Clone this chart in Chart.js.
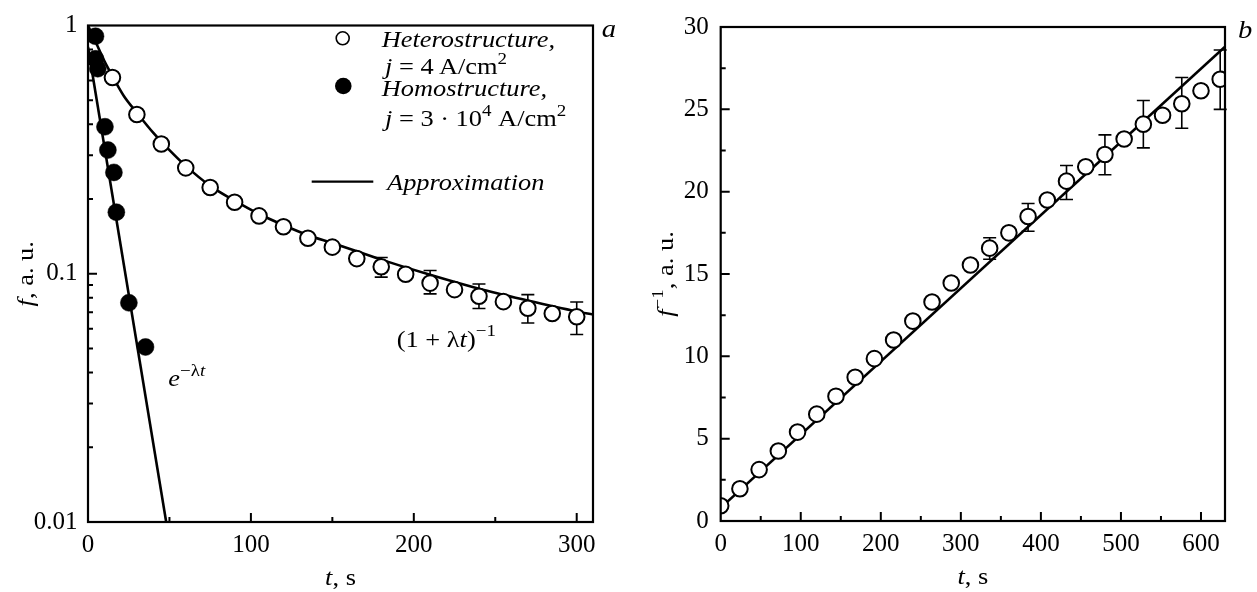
<!DOCTYPE html>
<html><head><meta charset="utf-8">
<script src="https://cdn.jsdelivr.net/npm/chart.js@4/dist/chart.umd.min.js"></script>
<style>
html,body{margin:0;padding:0;background:#fff;}
#wrap{position:relative;width:1257px;height:592px;overflow:hidden;}
#cA{position:absolute;left:0;top:0;}
#cB{position:absolute;left:630px;top:0;}
</style></head><body>
<div id="wrap">
<canvas id="cA" width="630" height="592"></canvas>
<canvas id="cB" width="627" height="592"></canvas>
</div>
<script>
// ---------- Panel a data ----------
const heteroT = [15,30,45,60,75,90,105,120,135,150,165,180,195,210,225,240,255,270,285,300];
const heteroF = [0.617,0.438,0.333,0.267,0.2225,0.194,0.171,0.1546,0.139,0.128,0.1151,0.1067,0.0995,0.0917,0.0863,0.0812,0.0772,0.0726,0.0692,0.0671];
const heteroErrT = [180,210,240,270,300];
const heteroErrLow = [0.0969,0.083,0.0724,0.0633,0.0569];
const heteroErrHigh = [0.1162,0.103,0.0909,0.0824,0.0769];
const homoT = [4.6,4.6,6,10.4,12.2,15.9,17.4,25.1,35.3];
const homoF = [0.905,0.734,0.67,0.391,0.315,0.256,0.177,0.0764,0.0507];
const heteroFitT = [0,5,10,15,22,30,40,50,60,75,90,105,120,135,150,180,210,240,270,300,310];
const heteroFitF = [1.0,0.85,0.72,0.625,0.52,0.445,0.37,0.315,0.272,0.226,0.197,0.174,0.157,0.143,0.133,0.114,0.099,0.087,0.078,0.0705,0.0685];
const homoFitT = [0,48];
const homoFitF = [0.82,0.01];
const leftXTicks = [0,100,200,300];
const leftXTickLabels = ['0','100','200','300'];
const leftYTicks = [0.01,0.1,1];
const leftYTickLabels = ['0.01','0.1','1'];
const leftXMinor = [50,150,250];
const leftYMinor = [0.02,0.03,0.04,0.05,0.06,0.07,0.08,0.09,0.2,0.3,0.4,0.5,0.6,0.7,0.8,0.9];

// ---------- Panel b data ----------
const invT = [0,24,48,72,96,120,144,168,192,216,240,264,288,312,336,360,384,408,432,456,480,504,528,552,576,600,624];
const invF = [0.93,1.96,3.12,4.25,5.4,6.49,7.58,8.73,9.86,10.99,12.14,13.3,14.45,15.55,16.57,17.5,18.49,19.49,20.64,21.51,22.26,23.2,24.1,24.64,25.34,26.13,26.83];
const invErrT = [336,384,432,480,528,576,624];
const invErrLow = [15.9,17.6,19.52,21.03,22.66,23.85,25.0];
const invErrHigh = [17.2,19.28,21.59,23.45,25.54,26.93,28.6];
const invFitT = [0,630];
const invFitF = [0.8,28.8];
const rightXTicks = [0,100,200,300,400,500,600];
const rightYTicks = [0,5,10,15,20,25,30];
const rightXMinor = [50,150,250,350,450,550];
const rightYMinor = [2.5,7.5,12.5,17.5,22.5,27.5];

// ---------- helpers ----------
const FONT = '"Liberation Serif", "Times New Roman", serif';
const SX = 1.1;
function rich(ctx, parts, x, y, size, align, sx){
  sx = sx || SX;
  let w = 0;
  const items = parts.map(p => {
    const t = p[0], st = p[1] || '';
    const sup = st.indexOf('s') >= 0, it = st.indexOf('i') >= 0;
    const fs = sup ? size*0.72 : size;
    const font = (it ? 'italic ' : '') + fs + 'px ' + FONT;
    ctx.font = font;
    const m = ctx.measureText(t).width;
    w += m;
    return {t, font, m, dy: sup ? -size*0.42 : 0};
  });
  const W = w*sx;
  const start = align === 'center' ? x - W/2 : (align === 'right' ? x - W : x);
  ctx.save();
  ctx.translate(start, y);
  ctx.scale(sx, 1);
  ctx.fillStyle = '#000';
  ctx.textAlign = 'left';
  ctx.textBaseline = 'alphabetic';
  let cx = 0;
  items.forEach(it => { ctx.font = it.font; ctx.fillText(it.t, cx, it.dy); cx += it.m; });
  ctx.restore();
}
function pts(xs, ys){ return xs.map((x,i)=>({x:x, y:ys[i]})); }

function frameTicksPlugin(xMajor, xMinor, yMajor, yMinor){
  return {
    id: 'frameTicks',
    afterDatasetsDraw(chart){
      const ctx = chart.ctx, a = chart.chartArea, xs = chart.scales.x, ys = chart.scales.y;
      ctx.save();
      ctx.strokeStyle = '#000';
      ctx.lineWidth = 2;
      ctx.beginPath();
      xMajor.forEach(v => { const p = xs.getPixelForValue(v); ctx.moveTo(p, a.bottom); ctx.lineTo(p, a.bottom-9); });
      xMinor.forEach(v => { const p = xs.getPixelForValue(v); ctx.moveTo(p, a.bottom); ctx.lineTo(p, a.bottom-5); });
      yMajor.forEach(v => { const p = ys.getPixelForValue(v); ctx.moveTo(a.left, p); ctx.lineTo(a.left+9, p); });
      yMinor.forEach(v => { const p = ys.getPixelForValue(v); ctx.moveTo(a.left, p); ctx.lineTo(a.left+5, p); });
      ctx.stroke();
      ctx.lineWidth = 2.2;
      ctx.strokeRect(a.left, a.top, a.right-a.left, a.bottom-a.top);
      ctx.restore();
    }
  };
}
function errorBarPlugin(ts, lows, highs){
  return {
    id: 'errBars',
    beforeDatasetsDraw(chart){
      const ctx = chart.ctx, xs = chart.scales.x, ys = chart.scales.y;
      ctx.save();
      ctx.strokeStyle = '#000';
      ctx.lineWidth = 1.6;
      ctx.beginPath();
      ts.forEach((t,i) => {
        const px = xs.getPixelForValue(t), p1 = ys.getPixelForValue(lows[i]), p2 = ys.getPixelForValue(highs[i]);
        ctx.moveTo(px, p1); ctx.lineTo(px, p2);
        ctx.moveTo(px-6.5, p1); ctx.lineTo(px+6.5, p1);
        ctx.moveTo(px-6.5, p2); ctx.lineTo(px+6.5, p2);
      });
      ctx.stroke();
      ctx.restore();
    }
  };
}
const tickFont = {family: FONT, size: 25};

// ---------- Panel a ----------
const textA = {
  id: 'textA',
  afterDraw(chart){
    const ctx = chart.ctx, a = chart.chartArea;
    // legend
    ctx.save();
    ctx.strokeStyle = '#000'; ctx.lineWidth = 1.6; ctx.fillStyle = '#fff';
    ctx.beginPath(); ctx.arc(342.7, 38.3, 6.5, 0, Math.PI*2); ctx.fill(); ctx.stroke();
    ctx.fillStyle = '#000';
    ctx.beginPath(); ctx.arc(343.3, 86, 8.3, 0, Math.PI*2); ctx.fill();
    ctx.lineWidth = 2.2;
    ctx.beginPath(); ctx.moveTo(311.7, 181.7); ctx.lineTo(373.3, 181.7); ctx.stroke();
    ctx.restore();
    rich(ctx, [['Heterostructure,','i']], 381.7, 47, 24, 'left');
    rich(ctx, [['j','i'],[' = 4\u2009A/cm'],['2','s']], 385, 74, 24, 'left');
    rich(ctx, [['Homostructure,','i']], 381.7, 95.5, 24, 'left');
    rich(ctx, [['j','i'],[' = 3 \u00b7 10'],['4','s'],[' A/cm'],['2','s']], 385, 126, 24, 'left');
    rich(ctx, [['Approximation','i']], 387, 190, 24, 'left');
    // annotations
    rich(ctx, [['(1 + \u03bb'],['t','i'],[')'],['\u22121','s']], 396.7, 346.5, 24, 'left');
    rich(ctx, [['e','i'],['\u2212\u03bb','s'],['t','si']], 168.3, 386, 24, 'left');
    // panel label
    rich(ctx, [['a','i']], 601.7, 36.7, 26, 'left');
    // axis titles
    rich(ctx, [['t','i'],[', s']], (a.left+a.right)/2, 585, 24, 'center');
    ctx.save();
    ctx.translate(33, (a.top+a.bottom)/2);
    ctx.rotate(-Math.PI/2);
    rich(ctx, [['f','i'],[', a. u.']], 0, 0, 24, 'center');
    ctx.restore();
  }
};

new Chart(document.getElementById('cA'), {
  type: 'scatter',
  data: { datasets: [
    { label: 'Approximation (1+λt)^-1', type: 'line', data: pts(heteroFitT, heteroFitF), borderColor: '#000', borderWidth: 2.6, pointRadius: 0, fill: false, cubicInterpolationMode: 'monotone', order: 4 },
    { label: 'Approximation e^-λt', type: 'line', data: pts(homoFitT, homoFitF), borderColor: '#000', borderWidth: 2.6, pointRadius: 0, fill: false, order: 3 },
    { label: 'Heterostructure', data: pts(heteroT, heteroF), pointRadius: 7.8, pointBorderWidth: 2, pointBackgroundColor: '#fff', pointBorderColor: '#000', order: 2 },
    { label: 'Homostructure', data: pts(homoT, homoF), pointRadius: 8.5, pointBorderWidth: 0.5, pointBackgroundColor: '#000', pointBorderColor: '#000', order: 1 }
  ]},
  options: {
    responsive: false, animation: false, devicePixelRatio: 1,
    layout: { autoPadding: false, padding: { left: 0, top: 16, right: 37, bottom: 0 } },
    plugins: { legend: { display: false }, tooltip: { enabled: false } },
    scales: {
      x: { type: 'linear', min: 0, max: 310,
        afterFit(s){ s.height = 70; },
        afterBuildTicks(s){ s.ticks = leftXTicks.map(v => ({value: v})); },
        grid: { display: false, drawTicks: false }, border: { display: false },
        ticks: { font: tickFont, color: '#000', padding: 8, maxRotation: 0, autoSkip: false, callback: (v,i) => leftXTickLabels[i] } },
      y: { type: 'logarithmic', min: 0.01, max: 1,
        afterFit(s){ s.width = 88; },
        afterBuildTicks(s){ s.ticks = leftYTicks.map(v => ({value: v})); },
        grid: { display: false, drawTicks: false }, border: { display: false },
        ticks: { font: tickFont, color: '#000', padding: 10.5, autoSkip: false, callback: (v,i) => leftYTickLabels[i] } }
    }
  },
  plugins: [errorBarPlugin(heteroErrT, heteroErrLow, heteroErrHigh), frameTicksPlugin([100,200,300], leftXMinor, [0.1], leftYMinor), textA]
});

// ---------- Panel b ----------
const textB = {
  id: 'textB',
  afterDraw(chart){
    const ctx = chart.ctx, a = chart.chartArea;
    rich(ctx, [['b','i']], 608, 38.3, 26, 'left');
    rich(ctx, [['t','i'],[', s']], (a.left+a.right)/2, 584, 24, 'center');
    ctx.save();
    ctx.translate(43, (a.top+a.bottom)/2);
    ctx.rotate(-Math.PI/2);
    rich(ctx, [['f','i'],['\u22121','s'],[', a. u.']], 0, 0, 24, 'center');
    ctx.restore();
  }
};
new Chart(document.getElementById('cB'), {
  type: 'scatter',
  data: { datasets: [
    { label: 'Approximation', type: 'line', data: pts(invFitT, invFitF), borderColor: '#000', borderWidth: 2.6, pointRadius: 0, fill: false, order: 3 },
    { label: 'Heterostructure f^-1', data: pts(invT, invF), pointRadius: 7.8, pointBorderWidth: 2, pointBackgroundColor: '#fff', pointBorderColor: '#000', order: 1 }
  ]},
  options: {
    responsive: false, animation: false, devicePixelRatio: 1,
    layout: { autoPadding: false, padding: { left: 0, top: 17, right: 32, bottom: 0 } },
    plugins: { legend: { display: false }, tooltip: { enabled: false } },
    scales: {
      x: { type: 'linear', min: 0, max: 630,
        afterFit(s){ s.height = 71; },
        afterBuildTicks(s){ s.ticks = rightXTicks.map(v => ({value: v})); },
        grid: { display: false, drawTicks: false }, border: { display: false },
        ticks: { font: tickFont, color: '#000', padding: 8, maxRotation: 0, autoSkip: false } },
      y: { type: 'linear', min: 0, max: 30,
        afterFit(s){ s.width = 90.7; },
        afterBuildTicks(s){ s.ticks = rightYTicks.map(v => ({value: v})); },
        grid: { display: false, drawTicks: false }, border: { display: false },
        ticks: { font: tickFont, color: '#000', padding: 12, autoSkip: false } }
    }
  },
  plugins: [errorBarPlugin(invErrT, invErrLow, invErrHigh), frameTicksPlugin([100,200,300,400,500,600], rightXMinor, [5,10,15,20,25], rightYMinor), textB]
});
</script>
</body></html>
